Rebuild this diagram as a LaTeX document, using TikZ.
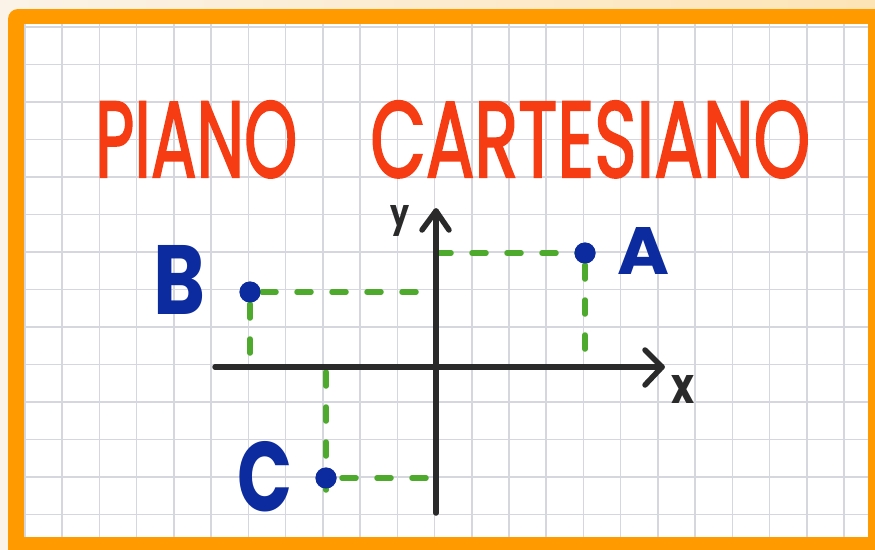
\documentclass[tikz,border=0pt]{standalone}
\usepackage{fontspec}
\usepackage{graphicx}
\newfontfamily\hand{Poppins}
\newfontfamily\titlehand{Poppins}[FakeBold=2.2]
\definecolor{frameorange}{HTML}{FF9A00}
\definecolor{creambg}{HTML}{FBF3E8}
\definecolor{peachbg}{HTML}{FCE4B6}
\definecolor{gridgray}{HTML}{D6D6DE}
\definecolor{titlered}{HTML}{F53C12}
\definecolor{pointblue}{HTML}{0C2B9E}
\definecolor{axisdark}{HTML}{2A2A2A}
\definecolor{dashgreen}{HTML}{4EAA2C}
\tikzset{
  gridline/.style={draw=gridgray, line width=1.5pt},
  axisline/.style={draw=axisdark, line width=5.5pt, line cap=round, line join=round},
  guide/.style={draw=dashgreen, line width=5.5pt, line cap=round, dash pattern=on 14pt off 21pt},
  ptdot/.style={circle, fill=pointblue, minimum size=21pt, inner sep=0pt},
  ptlabel/.style={text=pointblue, inner sep=0pt, font=\hand\bfseries},
  axlabel/.style={text=axisdark, inner sep=0pt, font=\hand\bfseries},
  titletext/.style={text=titlered, inner sep=0pt, font=\titlehand, anchor=south west}
}
\begin{document}
\begin{tikzpicture}[x=1pt, y=-1pt]
\useasboundingbox (0,0) rectangle (875,549);
% background
\shade[left color=creambg, right color=peachbg] (0,0) rectangle (875,549);
\fill[creambg] (0,20) rectangle (875,549);
% frame
\fill[frameorange, rounded corners=10pt] (8,9) rectangle (890,560);
\fill[white] (24,24) rectangle (868,537);
% grid
\foreach \k in {0,...,22} {
  \draw[gridline] ({25+37.23*\k},24) -- ({25+37.23*\k},537);
}
\foreach \k in {0,...,13} {
  \draw[gridline] (24,{27+37.5*\k}) -- (868,{27+37.5*\k});
}
% title
\node[titletext] (t1) at (95,178) {\resizebox{202pt}{76pt}{PIANO}};
\node[titletext] (t2) at (370,178) {\resizebox{440pt}{76pt}{CARTESIANO}};
% coordinates
\coordinate (xs) at (215,367);
\coordinate (xe) at (662,367);
\coordinate (ys) at (436,513);
\coordinate (ye) at (436,211);
\coordinate (xa1) at (645,350);
\coordinate (xa2) at (645,385);
\coordinate (ya1) at (422,230);
\coordinate (ya2) at (449,230);
\coordinate (Ay) at (437,253);
\coordinate (Ax) at (585,362);
\coordinate (By) at (418,292);
\coordinate (Bx) at (250,365);
\coordinate (Cx) at (326,372);
\coordinate (Cy) at (430,478);
% points
\node[ptdot] (A) at (585,253) {};
\node[ptdot] (B) at (250,292) {};
\node[ptdot] (C) at (326,478) {};
% guides
\draw[guide] (Ay) -- (A.center);
\draw[guide] (A.center) ++(0,12) -- (Ax);
\draw[guide] (B.center) ++(12,0) -- (By);
\draw[guide] (B.center) ++(0,12) -- (Bx);
\draw[guide] (Cx) -- ([yshift=-12pt]C.center);
\draw[guide] (C.center) ++(16,0) -- (Cy);
% axes
\draw[axisline] (xs) -- (xe);
\draw[axisline] (ys) -- (ye);
\draw[axisline] (xa1) -- (xe) -- (xa2);
\draw[axisline] (ya1) -- (ye) -- (ya2);
% redraw dots on top
\node[ptdot] at (A) {};
\node[ptdot] at (B) {};
\node[ptdot] at (C) {};
% labels
\node[ptlabel] (lA) at (644,251) {\resizebox{52pt}{47pt}{A}};
\node[ptlabel] (lB) at (179,280) {\resizebox{52pt}{69pt}{B}};
\node[ptlabel] (lC) at (265,477) {\resizebox{55pt}{70pt}{C}};
\node[axlabel] (ly) at (400,221) {\resizebox*{19pt}{31pt}{y}};
\node[axlabel] (lx) at (683,389) {\resizebox{23pt}{28pt}{x}};
\end{tikzpicture}
\end{document}
